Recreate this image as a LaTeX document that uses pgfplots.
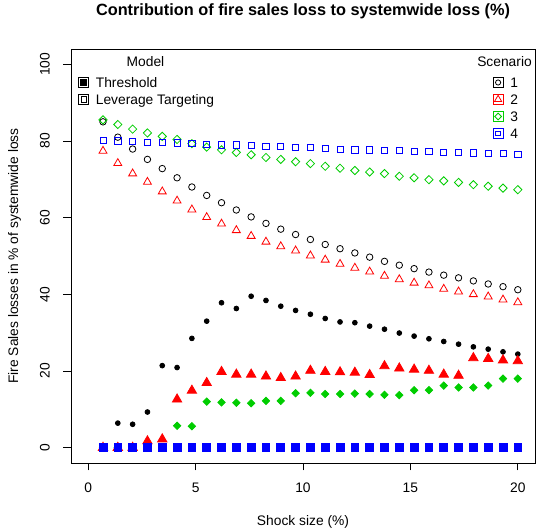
\documentclass[border=0pt]{standalone}
\usepackage{pgfplots}
\pgfplotsset{compat=1.18}
\usepackage{pgfplotstable}
\usepackage{fontspec}
\setmainfont{Liberation Sans}
\definecolor{rgreen}{RGB}{0,205,0}
\definecolor{rred}{RGB}{255,0,0}
\definecolor{rblue}{RGB}{0,0,255}
\newcommand\fs{\fontsize{13.8}{16}\selectfont}

\pgfplotstableread{
x       t1    l1    t2    l2    t3    l3    t4  l4
0.6897  0     85.0  0     77.4  0     85.5  0   80.2
1.3793  6.4   81.0  0     74.2  0     84.3  0   80.0
2.0690  6.1   77.9  0     71.5  0     83.1  0   79.8
2.7586  9.3   75.2  1.7   69.3  0     82.1  0   79.7
3.4483  21.4  72.8  2.2   66.8  0     81.2  0   79.6
4.1379  20.9  70.4  12.6  64.4  5.7   80.4  0   79.5
4.8276  28.5  68.0  14.9  62.1  5.6   79.3  0   79.3
5.5172  33.0  65.8  16.9  60.1  12.0  78.4  0   79.2
6.2069  37.8  63.9  19.8  58.4  11.8  77.7  0   79.0
6.8966  36.3  62.0  19.1  56.7  11.7  77.0  0   79.0
7.5862  39.5  60.2  19.1  55.2  11.6  76.4  0   78.8
8.2759  38.4  58.5  18.6  53.7  12.2  75.7  0   78.6
8.9655  36.9  57.0  18.2  52.5  12.2  75.2  0   78.5
9.6552  35.8  55.6  18.6  51.4  14.2  74.6  0   78.4
10.3448 34.8  54.3  20.1  50.1  14.3  74.1  0   78.3
11.0345 33.7  53.0  19.8  49.0  14.0  73.4  0   78.1
11.7241 32.8  51.9  19.7  47.9  14.0  72.9  0   77.9
12.4138 32.6  50.8  19.6  46.9  14.1  72.3  0   77.7
13.1034 31.7  49.7  19.0  45.9  14.0  71.9  0   77.7
13.7931 30.9  48.6  21.3  44.8  13.8  71.5  0   77.6
14.4828 29.9  47.6  20.7  43.9  13.7  70.8  0   77.5
15.1724 29.1  46.7  20.4  43.0  15.0  70.4  0   77.3
15.8621 28.4  45.8  20.1  42.3  15.0  69.9  0   77.2
16.5517 27.7  45.0  19.1  41.4  16.2  69.6  0   77.1
17.2414 27.0  44.3  18.8  40.7  15.7  69.2  0   77.0
17.9310 26.3  43.5  23.4  40.0  15.7  68.6  0   76.9
18.6207 25.7  42.7  23.2  39.4  16.2  68.2  0   76.8
19.3103 25.0  42.0  22.8  38.6  18.0  67.7  0   76.7
20.0000 24.4  41.2  22.6  37.9  18.0  67.3  0   76.6
}\data

\pgfplotsset{
  mylegimg/.style={legend image code/.code={\path (-5pt,-5pt) rectangle (5pt,5pt); \draw[##1] plot coordinates {(0pt,0pt)};}},
  mylegend/.style={legend style={draw=none, fill=none, inner sep=0pt, outer sep=0pt,
      row sep=0pt, column sep=6.8pt, font=\fs,
      nodes={inner sep=0pt, text height=13.5pt, text depth=3.5pt}},
    legend cell align=left},
  frame/.style={at={(0pt,0pt)}, anchor=south west, scale only axis, width=464pt, height=414pt,
    xmin=-0.8, xmax=20.8, ymin=-4, ymax=104}
}

\begin{document}
\begin{tikzpicture}
\useasboundingbox (-71pt,-66pt) rectangle (465pt,463pt);
\begin{axis}[frame, mylegend,
  legend style={at={(axis description cs:0.9088,0.9396)}, anchor=north west},
  xtick={0,5,...,20}, ytick={0,20,...,100},
  tick pos=left, tick align=outside, major tick length=7.5pt,
  axis line style={line width=0.8pt},
  tick style={line width=0.8pt, black},
  /pgf/number format/assume math mode=true,
  ticklabel style={font=\fs},
  xticklabel style={anchor=north, inner sep=0pt},
  xticklabel shift=12.5pt,
  yticklabel style={rotate=90, anchor=south, inner sep=0pt},
  yticklabel shift=13.5pt,
  xlabel={Shock size (\%)},
  xlabel style={font=\fs, at={(axis description cs:0.5,-0.1498)}, anchor=base, inner sep=0pt},
  ylabel={Fire Sales losses in \% of systemwide loss},
  ylabel style={font=\fs, at={(axis description cs:-0.1142,0.5)}, anchor=base, inner sep=0pt},
  title={Contribution of fire sales loss to systemwide loss (\%)},
  title style={font=\fontsize{16.3}{18}\selectfont\bfseries, at={(axis description cs:0.5,1.0652)}, anchor=base, inner sep=0pt},
  every axis plot/.append style={line width=0.8pt},
]
% scenario 1
\addplot[forget plot, only marks, black, mark=*, mark size=2.4pt] table[x=x,y=t1]{\data};
\addplot[forget plot, only marks, black, mark=o, mark size=3.25pt] table[x=x,y=l1]{\data};
% scenario 2
\addplot[forget plot, only marks, rred, mark=triangle*, mark size=5.4pt] table[x=x,y=t2]{\data};
\addplot[forget plot, only marks, rred, mark=triangle, mark size=4.6pt] table[x=x,y=l2]{\data};
% scenario 3
\addplot[forget plot, only marks, rgreen, mark=square*, mark size=2.6pt, mark options={rotate=45}] table[x=x,y=t3]{\data};
\addplot[forget plot, only marks, rgreen, mark=square, mark size=2.9pt, mark options={rotate=45}] table[x=x,y=l3]{\data};
% scenario 4
\addplot[forget plot, only marks, rblue, mark=square*, mark size=3.9pt] table[x=x,y=t4]{\data};
\addplot[forget plot, only marks, rblue, mark=square, mark size=3.1pt] table[x=x,y=l4]{\data};

\addlegendimage{only marks, black, mark=o, mark size=2.6pt, line width=0.8pt, mylegimg}
\addlegendentry{1}
\addlegendimage{only marks, rred, mark=triangle, mark size=4.2pt, line width=0.8pt, mylegimg}
\addlegendentry{2}
\addlegendimage{only marks, rgreen, mark=square, mark size=2.4pt, mark options={rotate=45}, line width=0.8pt, mylegimg}
\addlegendentry{3}
\addlegendimage{only marks, rblue, mark=square, mark size=2.4pt, line width=0.8pt, mylegimg}
\addlegendentry{4}

\node[font=\fs, anchor=base, inner sep=0pt] at (axis description cs:0.1606,0.9572) {Model};
\node[font=\fs, anchor=base, inner sep=0pt] at (axis description cs:0.9343,0.9572) {Scenario};
\end{axis}

\begin{axis}[frame, mylegend, hide axis,
  legend style={at={(axis description cs:0.0157,0.9396)}, anchor=north west}]
\addlegendimage{only marks, black, mark=square*, mark size=2.8pt, line width=0.8pt, mylegimg}
\addlegendentry{Threshold}
\addlegendimage{only marks, black, mark=square, mark size=2.7pt, line width=0.8pt, mylegimg}
\addlegendentry{Leverage Targeting}
\end{axis}
\end{tikzpicture}
\end{document}
